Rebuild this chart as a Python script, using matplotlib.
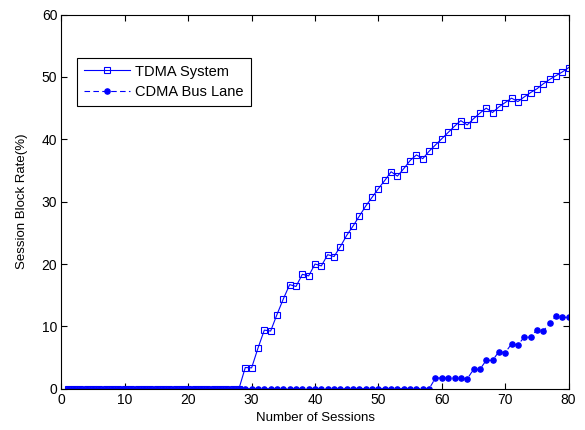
import matplotlib
matplotlib.use("Agg")
import matplotlib.pyplot as plt
import numpy as np

plt.rcParams["font.family"] = ["Liberation Sans", "DejaVu Sans"]

sessions = np.arange(1, 81)

# TDMA System: zero up to session 28, values from 29 to 80
tdma_tail = [
    3.4, 3.35, 6.5, 9.4, 9.25, 11.9, 14.4, 16.7, 16.4, 18.35,
    18.1, 20.0, 19.7, 21.5, 21.2, 22.8, 24.6, 26.1, 27.7, 29.3,
    30.7, 32.1, 33.4, 34.8, 34.1, 35.3, 36.6, 37.5, 36.9, 38.1,
    39.1, 40.1, 41.1, 42.1, 43.0, 42.3, 43.3, 44.2, 45.0, 44.3,
    45.2, 45.9, 46.6, 46.05, 46.8, 47.5, 48.1, 48.9, 49.6, 50.2,
    50.8, 51.5,
]
tdma = [0.0] * 28 + tdma_tail

# CDMA Bus Lane: zero up to session 58, values from 59 to 80
cdma_tail = [
    1.72, 1.72, 1.72, 1.72, 1.72, 1.56, 3.1, 3.1, 4.55, 4.55,
    5.94, 5.78, 7.2, 7.0, 8.3, 8.25, 9.47, 9.26, 10.5, 11.66,
    11.45, 11.45,
]
cdma = [0.0] * 58 + cdma_tail

fig = plt.figure(figsize=(5.85, 4.3), dpi=100)
ax = fig.add_axes([0.105, 0.096, 0.867, 0.870])

ax.plot(sessions, tdma, color="#0000ff", linewidth=0.8, marker="s",
        markersize=4, markerfacecolor="none", markeredgewidth=0.8,
        label="TDMA System")
ax.plot(sessions, cdma, color="#0000ff", linewidth=0.8, dashes=[5, 3],
        marker=".", markersize=7.5, label="CDMA Bus Lane")

ax.set_xlim(0, 80)
ax.set_ylim(0, 60)
ax.set_xticks(np.arange(0, 81, 10))
ax.set_yticks(np.arange(0, 61, 10))
ax.tick_params(direction="in", top=True, right=True, length=4, width=0.8,
               labelsize=10, pad=3)
for s in ax.spines.values():
    s.set_linewidth(0.8)

ax.set_xlabel("Number of Sessions", fontsize=9.5, labelpad=4)
ax.set_ylabel("Session Block Rate(%)", fontsize=9.5, labelpad=10)

leg = ax.legend(loc="upper left", bbox_to_anchor=(0.031, 0.884),
                borderaxespad=0, fontsize=10.5, fancybox=False, framealpha=1,
                edgecolor="black", handlelength=3.2, handletextpad=0.35,
                borderpad=0.45, labelspacing=0.45)
leg.get_frame().set_linewidth(0.8)

fig.savefig("out.png", dpi=100)
